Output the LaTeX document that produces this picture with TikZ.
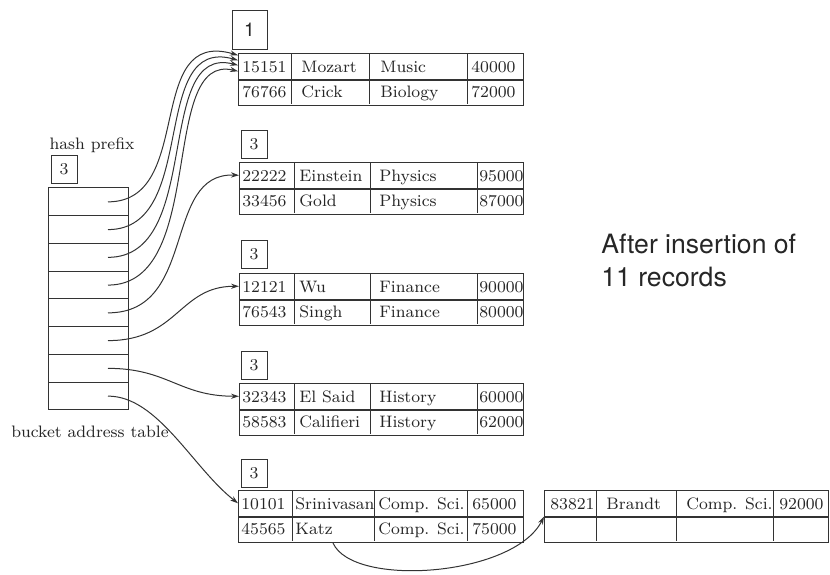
\documentclass[tikz,border=0pt]{standalone}
\usepackage{fontspec}
\setsansfont{TeX Gyre Heros}
\usetikzlibrary{arrows.meta}
\newlength{\unitpx}
\setlength{\unitpx}{0.5pt}

\begin{document}
\begin{tikzpicture}[
  x=\unitpx, y=-\unitpx,
  font=\fontsize{8.3}{10}\selectfont,
  ink/.style={draw=black!80, line width=0.5pt},
  rowbox/.style={ink, anchor=north west, minimum height=25.5*\unitpx,
                 inner sep=0pt},
  slot/.style={ink, minimum width=80*\unitpx, minimum height=27.75*\unitpx,
               inner sep=0pt},
  depthbox/.style={ink, minimum width=26*\unitpx, minimum height=28*\unitpx,
                   inner sep=0pt, text=black!85},
  celltxt/.style={anchor=west, inner sep=0pt, text height=1.6ex,
                  text depth=.2ex, text=black!85},
  lbl/.style={inner sep=0pt, text=black!85},
  ptr/.style={-{Stealth[length=4pt, width=2.6pt]}, draw=black!80,
              line width=0.5pt}
]
  \useasboundingbox (0,0) rectangle (830,574);

  % bucket address table
  \node[lbl] (hplbl) at (92,145) {hash prefix};
  \node[depthbox] (hp) at (64,169.5) {3};
  \foreach \i in {1,...,8} {
    \node[slot] (row\i) at (88,{174.1+27.75*\i}) {};
    \coordinate (p\i) at ([shift={(20,0)}]row\i.center);
  }
  \node[lbl] (bat) at (90,432) {bucket address table};

  % bucket 1
  \node[depthbox, minimum width=35*\unitpx, minimum height=39*\unitpx,
        font=\sffamily\fontsize{9.5}{11}\selectfont] (d1) at (249.5,29.5) {1};
  \node[rowbox, minimum width=285*\unitpx] (b1r1) at (238,53) {};
  \node[rowbox, minimum width=285*\unitpx] (b1r2) at (b1r1.south west) {};
  \foreach \x in {291,369,467} \draw[ink] (\x,53) -- (\x,104);
  \foreach \t/\x [count=\c] in {15151/242, Mozart/301, Music/380, 40000/471}
    \node[celltxt] (b1a\c) at (\x,66) {\t};
  \foreach \t/\x [count=\c] in {76766/242, Crick/301, Biology/380, 72000/471}
    \node[celltxt] (b1b\c) at (\x,91) {\t};

  % bucket 2
  \node[depthbox] (d2) at (254,144) {3};
  \node[rowbox, minimum width=284*\unitpx] (b2r1) at (239,162) {};
  \node[rowbox, minimum width=284*\unitpx] (b2r2) at (b2r1.south west) {};
  \foreach \x in {294,370,477} \draw[ink] (\x,162) -- (\x,213);
  \foreach \t/\x [count=\c] in {22222/242, Einstein/299, Physics/379, 95000/479}
    \node[celltxt] (b2a\c) at (\x,175) {\t};
  \foreach \t/\x [count=\c] in {33456/242, Gold/299, Physics/379, 87000/479}
    \node[celltxt] (b2b\c) at (\x,200) {\t};

  % bucket 3
  \node[depthbox] (d3) at (254,254) {3};
  \node[rowbox, minimum width=284*\unitpx] (b3r1) at (239,273) {};
  \node[rowbox, minimum width=284*\unitpx] (b3r2) at (b3r1.south west) {};
  \foreach \x in {294,370,477} \draw[ink] (\x,273) -- (\x,324);
  \foreach \t/\x [count=\c] in {12121/242, Wu/299, Finance/379, 90000/479}
    \node[celltxt] (b3a\c) at (\x,286) {\t};
  \foreach \t/\x [count=\c] in {76543/242, Singh/299, Finance/379, 80000/479}
    \node[celltxt] (b3b\c) at (\x,311) {\t};

  % bucket 4
  \node[depthbox] (d4) at (254,365) {3};
  \node[rowbox, minimum width=284*\unitpx] (b4r1) at (239,383) {};
  \node[rowbox, minimum width=284*\unitpx] (b4r2) at (b4r1.south west) {};
  \foreach \x in {294,370,477} \draw[ink] (\x,383) -- (\x,434);
  \foreach \t/\x [count=\c] in {32343/242, El Said/299, History/379, 60000/479}
    \node[celltxt] (b4a\c) at (\x,396) {\t};
  \foreach \t/\x [count=\c] in {58583/242, Califieri/299, History/379, 62000/479}
    \node[celltxt] (b4b\c) at (\x,421) {\t};

  % bucket 5 and its overflow bucket
  \node[depthbox] (d5) at (254,473) {3};
  \node[rowbox, minimum width=285*\unitpx] (b5r1) at (238,490) {};
  \node[rowbox, minimum width=285*\unitpx] (b5r2) at (b5r1.south west) {};
  \foreach \x in {292,374,467} \draw[ink] (\x,490) -- (\x,541);
  \foreach \t/\x [count=\c] in {10101/241, Srinivasan/295, Comp. Sci./378, 65000/472}
    \node[celltxt] (b5a\c) at (\x,503) {\t};
  \foreach \t/\x [count=\c] in {45565/241, Katz/295, Comp. Sci./378, 75000/472}
    \node[celltxt] (b5b\c) at (\x,528) {\t};

  \node[rowbox, minimum width=284*\unitpx] (ov1) at (544,490) {};
  \node[rowbox, minimum width=284*\unitpx] (ov2) at (ov1.south west) {};
  \foreach \x in {596,676,773} \draw[ink] (\x,490) -- (\x,541);
  \foreach \t/\x [count=\c] in {83821/550, Brandt/606, Comp. Sci./686, 92000/779}
    \node[celltxt] (ova\c) at (\x,503) {\t};

  % pointers from the table
  \foreach \i/\dy/\a/\ex/\ey in {1/-11/88/-95/-28, 2/-6/92/-90/-25,
                                 3/-1/96/-85/-22, 4/5/100/-80/-19}
    \draw[ptr] (p\i) .. controls +(\a,0) and +(\ex,\ey)
      .. ([shift={(0,\dy)}]b1r1.west);
  \draw[ptr] (p5) .. controls +(90,0) and +(-77,-3) .. (b2r1.west);
  \draw[ptr] (p6) .. controls +(70,0) and +(-60,0) .. (b3r1.west);
  \draw[ptr] (p7) .. controls +(60,0) and +(-60,0) .. (b4r1.west);
  \draw[ptr] (p8) .. controls +(50,0) and +(-45,-35) .. (b5r1.west);
  \draw[ptr] (b5b2.east |- b5r2.south) .. controls +(20,45) and +(-30,60)
    .. (ov1.south west);

  \node[lbl, anchor=north west, align=left,
        font=\sffamily\fontsize{13.3}{16.5}\selectfont] (note) at (601,234)
    {After insertion of\\11 records};
\end{tikzpicture}
\end{document}
